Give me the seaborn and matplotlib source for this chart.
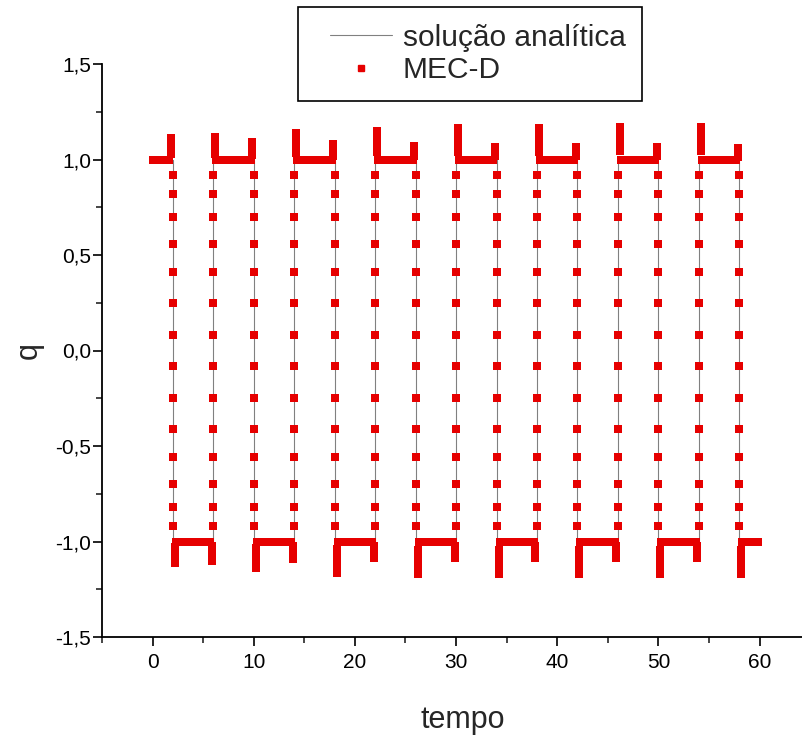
import numpy as np
import pandas as pd
import matplotlib
matplotlib.use("Agg")
import matplotlib.pyplot as plt
import seaborn as sns
from matplotlib.lines import Line2D
from matplotlib.legend_handler import HandlerLine2D
from matplotlib.ticker import MultipleLocator, FuncFormatter

# ---------------- data ----------------
# analytical solution: square wave corner points
ana_t = [0, 2, 2, 6, 6, 10, 10, 14, 14, 18, 18, 22, 22, 26, 26, 30,
         30, 34, 34, 38, 38, 42, 42, 46, 46, 50, 50, 54, 54, 58, 58, 60]
ana_q = [1, 1, -1, -1, 1, 1, -1, -1, 1, 1, -1, -1, 1, 1, -1, -1,
         1, 1, -1, -1, 1, 1, -1, -1, 1, 1, -1, -1, 1, 1, -1, -1]

# MEC-D: switching instants, plateau levels and overshoots
switch_t = [2, 6, 10, 14, 18, 22, 26, 30, 34, 38, 42, 46, 50, 54, 58]
seg_level = [1, -1, 1, -1, 1, -1, 1, -1, 1, -1, 1, -1, 1, -1, 1, -1]
peak_before = [1.11, -1.10, 1.09, -1.09, 1.08, -1.087, 1.07, -1.085,
               1.065, -1.085, 1.065, -1.085, 1.065, -1.085, 1.06]
peak_after = [-1.11, 1.12, -1.14, 1.14, -1.165, 1.15, -1.17, 1.165,
              -1.17, 1.165, -1.17, 1.17, -1.17, 1.17, -1.17]
# markers along a falling edge (q levels)
ramp_q = [0.92, 0.82, 0.7, 0.56, 0.41, 0.25, 0.08, -0.08, -0.25, -0.41,
          -0.56, -0.7, -0.82, -0.92]
# relative positions of the markers stacked in a spike column
spike_frac = [0.25, 0.5, 0.75, 1.0]
t_start, t_end = 0, 60
dt_plateau = 0.2

# ---------------- build MEC-D point table ----------------
pts_t, pts_q = [], []
seg_start = [t_start] + switch_t
seg_end = switch_t + [t_end]
for i, (a, b, lev) in enumerate(zip(seg_start, seg_end, seg_level)):
    a2 = a + (0.3 if i > 0 else 0.0)
    b2 = b - (0.3 if i < len(seg_level) - 1 else 0.0)
    for tt in np.arange(a2, b2 + 1e-9, dt_plateau):
        pts_t.append(tt); pts_q.append(lev)
for j, ts in enumerate(switch_t):
    old, new = seg_level[j], seg_level[j + 1]
    for f in spike_frac:
        pts_t.append(ts - 0.15); pts_q.append(old + f * (peak_before[j] - old))
        pts_t.append(ts + 0.2); pts_q.append(new + f * (peak_after[j] - new))
    for r in ramp_q:
        pts_t.append(ts); pts_q.append(r * old)
mec = pd.DataFrame({"tempo": pts_t, "q": pts_q})
ana = pd.DataFrame({"tempo": ana_t, "q": ana_q})

# ---------------- plotting ----------------
sns.set_theme(style="ticks")
plt.rcParams["font.family"] = ["Liberation Sans", "DejaVu Sans"]

RED = "#E60000"
GRAY = "#808080"

fig = plt.figure(figsize=(8.03, 7.37), dpi=100)
ax = fig.add_axes([102 / 803, 100 / 737, 701 / 803, 573 / 737])

sns.lineplot(data=ana, x="tempo", y="q", estimator=None, sort=False,
             color=GRAY, linewidth=0.8, ax=ax, legend=False, zorder=2)
sns.scatterplot(data=mec, x="tempo", y="q", marker="s", s=26, color=RED,
                linewidth=0, ax=ax, legend=False, zorder=3)

ax.set_xlim(-5, 64.3)
ax.set_ylim(-1.5, 1.5)
ax.xaxis.set_major_locator(MultipleLocator(10))
ax.xaxis.set_minor_locator(MultipleLocator(5))
ax.yaxis.set_major_locator(MultipleLocator(0.5))
ax.yaxis.set_minor_locator(MultipleLocator(0.25))
ax.yaxis.set_major_formatter(FuncFormatter(lambda v, p: f"{v:.1f}".replace(".", ",").replace("−", "-")))
ax.xaxis.set_major_formatter(FuncFormatter(lambda v, p: f"{v:.0f}"))
ax.tick_params(which="major", direction="out", length=6.5, width=1.2, labelsize=15, colors="black")
ax.tick_params(axis="y", which="major", pad=1.5)
ax.tick_params(axis="x", which="major", pad=5)
ax.tick_params(which="minor", direction="out", length=4.5, width=1.2)
for s in ["left", "bottom"]:
    ax.spines[s].set_linewidth(1.3)
    ax.spines[s].set_color("black")
sns.despine(ax=ax)

ax.set_xlabel("tempo", fontsize=22)
ax.set_ylabel("q", fontsize=22)
ax.xaxis.set_label_coords((463 - 102) / 701, -0.118)
ax.yaxis.set_label_coords(-0.083, 0.5)


class PadHandler(HandlerLine2D):
    def get_xdata(self, legend, xdescent, ydescent, width, height, fontsize):
        x0 = -xdescent + 0.5 * fontsize
        x1 = -xdescent + width
        return np.array([x0, x1]), np.array([(x0 + x1) / 2])


handles = [Line2D([], [], color=GRAY, linewidth=0.8),
           Line2D([], [], linestyle="none", marker="s", markersize=5, color=RED)]
leg = ax.legend(handles, ["solução analítica", "MEC-D"],
                loc="upper left", bbox_to_anchor=(298 / 803, 1 - 7 / 737),
                bbox_transform=fig.transFigure, borderaxespad=0,
                fontsize=21.5, borderpad=0.56, labelspacing=0.15,
                handlelength=2.6, handletextpad=0.35, frameon=True,
                fancybox=False, framealpha=1, edgecolor="black",
                handler_map={Line2D: PadHandler()})
leg.get_frame().set_linewidth(1.2)

fig.savefig("out.png", dpi=100)
